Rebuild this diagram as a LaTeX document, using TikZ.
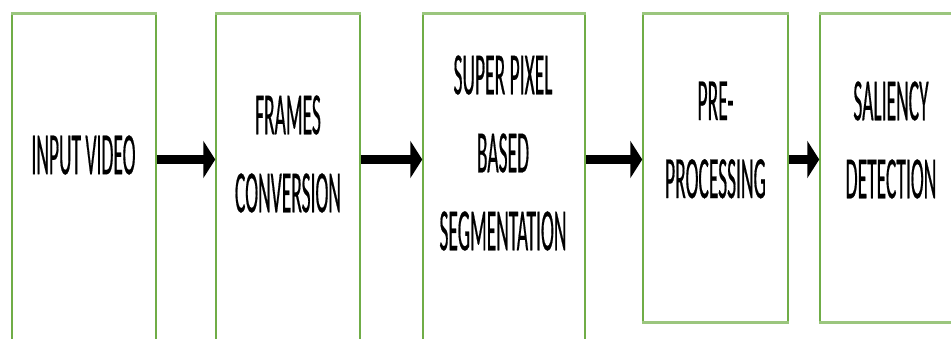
\documentclass[tikz,border=0pt]{standalone}
\usepackage{fontspec}
\newfontfamily\blockfont[FakeStretch=0.325,FakeBold=0.3]{Carlito}
\usetikzlibrary{arrows.meta,positioning}
\definecolor{StageGreen}{HTML}{70AD47}
\tikzset{
  stage/.style={draw=StageGreen,line width=1.5pt,inner sep=0pt},
  rim/.style={draw=StageGreen!70,line width=3pt},
  stagetext/.style={align=center,inner sep=0pt,text=black,
    font=\blockfont\fontsize{60}{78}\selectfont},
  flow/.style={-{Triangle[length=12pt,width=37pt]},line width=9pt,draw=black}
}

\begin{document}
\begin{tikzpicture}[x=1pt,y=-1pt]
  \path[use as bounding box,clip] (0,0) rectangle (951,339);
  % stage boxes
  \node[stage,minimum width=144pt,minimum height=346pt] (b1) at (84,187) {};
  \node[stage,minimum width=144pt,minimum height=346pt] (b2) at (288,187) {};
  \node[stage,minimum width=162pt,minimum height=346pt] (b3) at (504,187) {};
  \node[stage,minimum width=145pt,minimum height=308pt] (b4) at (715.5,168) {};
  \node[stage,minimum width=150pt,minimum height=308pt] (b5) at (895,168) {};
  \foreach \b in {b1,b2,b3,b4,b5}
    \draw[rim] (\b.north west) -- (\b.north east);
  \foreach \b in {b4,b5}
    \draw[rim] (\b.south west) -- (\b.south east);
  % texts
  \node[stagetext] (t1) at (83.5,155) {INPUT VIDEO};
  \node[stagetext] (t2) at (288,154) {FRAMES\\CONVERSION};
  \node[stagetext] (t3) at (503,153) {SUPER PIXEL\\BASED\\SEGMENTATION};
  \node[stagetext] (t4) at (715.5,140) {PRE-\\PROCESSING};
  \node[stagetext] (t5) at (891,140) {SALIENCY\\DETECTION};
  % arrows
  \coordinate (lane) at (0,159.5);
  \draw[flow] (b1.east |- lane) -- (b2.west |- lane);
  \draw[flow] (b2.east |- lane) -- (b3.west |- lane);
  \draw[flow] (b3.east |- lane) -- (b4.west |- lane);
  \draw[flow] (b4.east |- lane) -- (b5.west |- lane);
\end{tikzpicture}
\end{document}
